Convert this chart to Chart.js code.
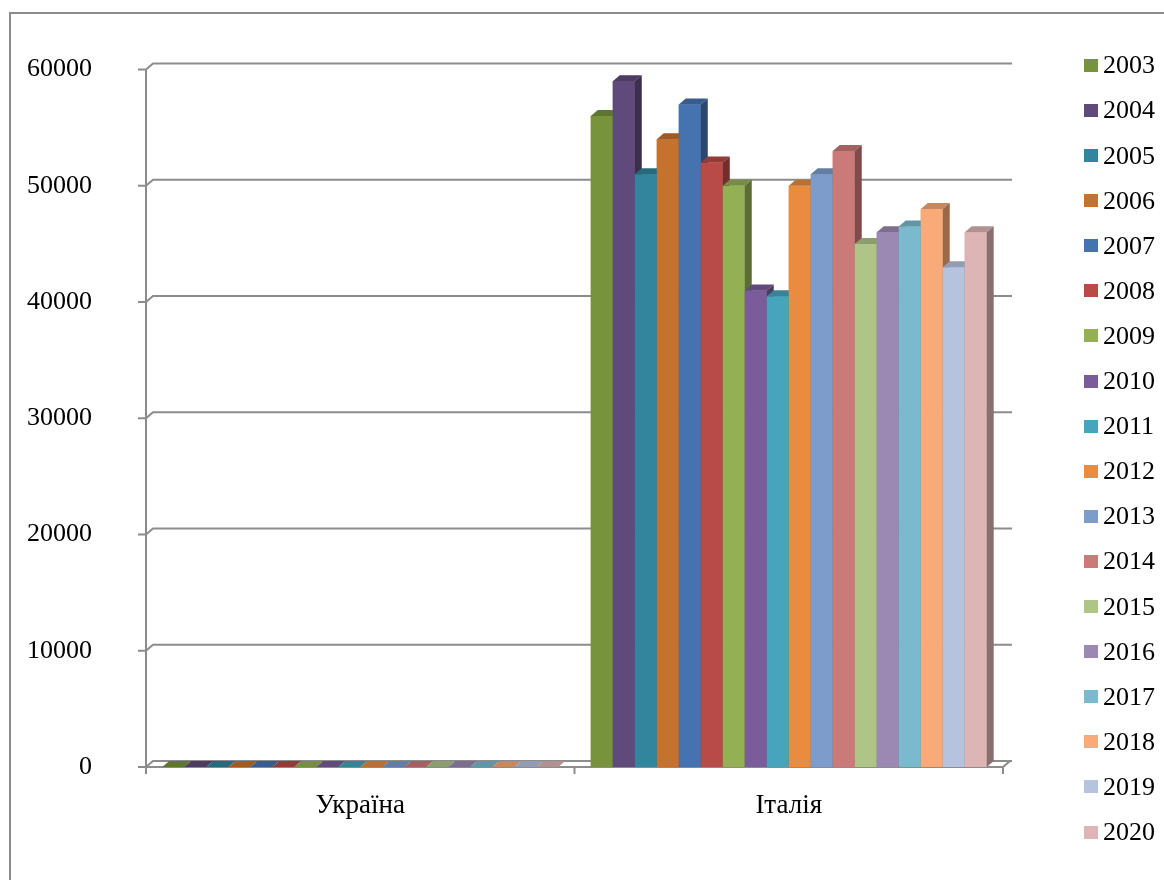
<!DOCTYPE html>
<html>
<head>
<meta charset="utf-8">
<script src="https://cdn.jsdelivr.net/npm/chart.js@4/dist/chart.umd.min.js"></script>
<style>
  html, body { margin: 0; padding: 0; background: #ffffff; overflow: hidden; }
  #wrap { position: relative; width: 1164px; height: 880px; }
  #chart { position: absolute; left: 0; top: 0; }
  #legend {
    position: absolute; left: 1084px; top: 0;
    font-family: 'Liberation Serif', 'Times New Roman', serif;
    font-size: 26px; color: #000000;
  }
  #legend .item { position: absolute; left: 0; height: 26px; line-height: 26px; white-space: nowrap; }
  #legend .sw { position: absolute; left: 0; top: 6.5px; width: 14px; height: 13px; }
  #legend .tx { position: absolute; left: 19px; top: 0; }
</style>
</head>
<body>
<div id="wrap">
  <canvas id="chart" width="1164" height="880"></canvas>
  <div id="legend"></div>
</div>
<script>
// Categories along the horizontal axis
const categories = ['Україна', 'Італія'];

// One series per year
const years = ['2003', '2004', '2005', '2006', '2007', '2008', '2009', '2010', '2011',
               '2012', '2013', '2014', '2015', '2016', '2017', '2018', '2019', '2020'];

// Values per year for each country
const ukraineValues = [0, 0, 0, 0, 0, 0, 0, 0, 0, 0, 0, 0, 0, 0, 0, 0, 0, 0];
const italyValues = [56000, 59000, 51000, 54000, 57000, 52000, 50000, 41000, 40500,
                     50000, 51000, 53000, 45000, 46000, 46500, 48000, 43000, 46000];

// Value axis ticks and their labels
const yTickValues = [0, 10000, 20000, 30000, 40000, 50000, 60000];
const yTickLabels = ['0', '10000', '20000', '30000', '40000', '50000', '60000'];

// Series colours
const seriesColors = ['#77933C', '#604A7B', '#31859C', '#C4722F', '#4573B0', '#B84A47',
                      '#93B054', '#7A5C9A', '#46A4BC', '#E98C40', '#7D9CCB', '#CC7A79',
                      '#AFC588', '#9C89B3', '#7BBACE', '#F8AA78', '#B6C3DE', '#DDB5B5'];

const FONT_FAMILY = "'Liberation Serif', 'Times New Roman', serif";
const DX = 7, DY = 6;              // depth offset of the 3D box
const LINE = '#8c8c8c';

function shade(hex, f) {
  const n = parseInt(hex.slice(1), 16);
  const r = Math.round(((n >> 16) & 255) * f);
  const g = Math.round(((n >> 8) & 255) * f);
  const b = Math.round((n & 255) * f);
  return `rgb(${r},${g},${b})`;
}

// Frame, walls, gridlines and 3D bar faces
const frame3d = {
  id: 'frame3d',
  beforeDraw(chart) {
    const c = chart.ctx;
    c.save();
    c.fillStyle = '#ffffff';
    c.fillRect(0, 0, chart.width, chart.height);
    c.strokeStyle = LINE;
    c.lineWidth = 2;
    c.strokeRect(10, 13, 1300, 1000);
    c.restore();
  },
  beforeDatasetsDraw(chart) {
    const c = chart.ctx;
    const { left, right } = chart.chartArea;
    const ys = chart.scales.y;
    const base = ys.getPixelForValue(0);
    const top = ys.getPixelForValue(ys.max);
    c.save();
    c.strokeStyle = LINE;
    c.lineWidth = 2;
    c.lineJoin = 'miter';
    // gridlines across side wall and back wall
    ys.ticks.forEach(t => {
      const py = ys.getPixelForValue(t.value);
      c.beginPath();
      c.moveTo(left - 8, py);
      c.lineTo(left, py);
      c.lineTo(left + DX, py - DY);
      c.lineTo(right + DX + 2, py - DY);
      c.stroke();
    });
    // front edge of side wall
    c.beginPath();
    c.moveTo(left, top);
    c.lineTo(left, base);
    c.stroke();
    // floor front edge and right end
    c.beginPath();
    c.moveTo(left, base);
    c.lineTo(right, base);
    c.lineTo(right + DX, base - DY);
    c.stroke();
    // category ticks
    const n = chart.data.labels.length;
    for (let i = 0; i <= n; i++) {
      const px = left + (right - left) * i / n;
      c.beginPath();
      c.moveTo(px, base);
      c.lineTo(px, base + 7);
      c.stroke();
    }
    c.restore();
  },
  afterDatasetsDraw(chart) {
    const c = chart.ctx;
    const n = chart.data.labels.length;
    c.save();
    for (let j = 0; j < n; j++) {
      chart.data.datasets.forEach((ds, i) => {
        const meta = chart.getDatasetMeta(i);
        const el = meta.data[j];
        if (!el) return;
        const { x, y, base, width } = el.getProps(['x', 'y', 'base', 'width'], true);
        const L = x - width / 2, R = x + width / 2;
        const col = ds.backgroundColor;
        // front face
        c.fillStyle = col;
        c.fillRect(L, y, width, base - y);
        // top face
        c.fillStyle = shade(col, 0.8);
        c.beginPath();
        c.moveTo(L, y);
        c.lineTo(L + DX, y - DY);
        c.lineTo(R + DX, y - DY);
        c.lineTo(R, y);
        c.closePath();
        c.fill();
        // side face
        c.fillStyle = shade(col, 0.62);
        c.beginPath();
        c.moveTo(R, y);
        c.lineTo(R + DX, y - DY);
        c.lineTo(R + DX, base - DY);
        c.lineTo(R, base);
        c.closePath();
        c.fill();
      });
    }
    c.restore();
  }
};

// Legend list built from the chart's own legend items
const htmlLegend = {
  id: 'htmlLegend',
  afterUpdate(chart) {
    const box = document.getElementById('legend');
    box.innerHTML = '';
    const items = Chart.defaults.plugins.legend.labels.generateLabels(chart);
    items.forEach((it, k) => {
      const row = document.createElement('div');
      row.className = 'item';
      row.style.top = (65.3 + 45.1 * k - 13) + 'px';
      const sw = document.createElement('span');
      sw.className = 'sw';
      sw.style.background = it.fillStyle;
      const tx = document.createElement('span');
      tx.className = 'tx';
      tx.textContent = it.text;
      row.appendChild(sw);
      row.appendChild(tx);
      box.appendChild(row);
    });
  }
};

new Chart(document.getElementById('chart'), {
  type: 'bar',
  data: {
    labels: categories,
    datasets: years.map((yr, i) => ({
      label: yr,
      data: [ukraineValues[i], italyValues[i]],
      backgroundColor: seriesColors[i],
      borderWidth: 0,
      categoryPercentage: 0.924,
      barPercentage: 1.0
    }))
  },
  options: {
    responsive: false,
    devicePixelRatio: 1,
    animation: false,
    layout: { padding: { left: 0, top: 63.5, right: 1164 - 1003, bottom: 0 } },
    plugins: {
      legend: { display: false },
      tooltip: { enabled: false }
    },
    scales: {
      x: {
        grid: { display: false, drawTicks: false },
        border: { display: false },
        ticks: { padding: 23, color: '#000000', font: { family: FONT_FAMILY, size: 27 } },
        afterFit(s) { s.height = 880 - 767; }
      },
      y: {
        min: 0,
        max: 60000,
        grid: { display: false, drawTicks: false },
        border: { display: false },
        ticks: {
          padding: 54,
          color: '#000000',
          font: { family: FONT_FAMILY, size: 26 },
          callback: (value, index) => yTickLabels[index]
        },
        afterBuildTicks(s) { s.ticks = yTickValues.map(v => ({ value: v })); },
        afterFit(s) { s.width = 146; }
      }
    }
  },
  plugins: [frame3d, htmlLegend]
});
</script>
</body>
</html>
